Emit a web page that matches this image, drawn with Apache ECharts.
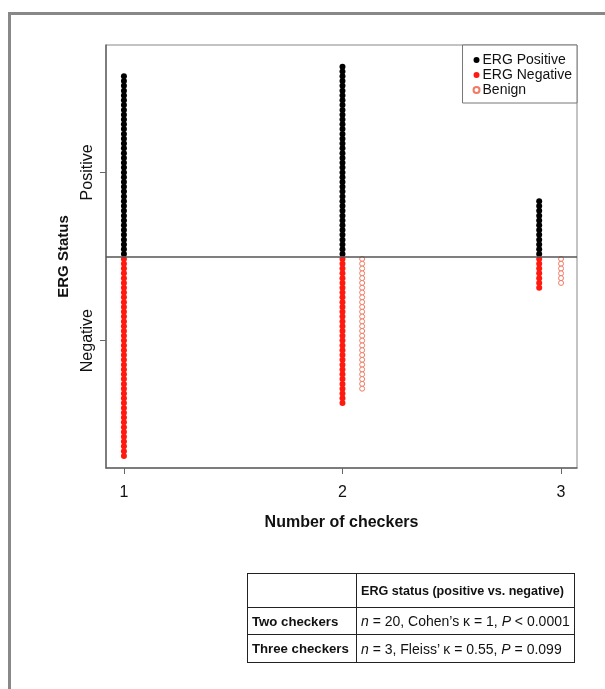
<!DOCTYPE html>
<html>
<head>
<meta charset="utf-8">
<script src="https://cdn.jsdelivr.net/npm/echarts@6/dist/echarts.min.js"></script>
<style>
  html, body { margin: 0; padding: 0; background: #fff; }
  body { width: 605px; height: 689px; position: relative; overflow: hidden; font-family: "Liberation Sans", Arial, sans-serif; }
  #frame { position: absolute; left: 8px; top: 12px; width: 700px; height: 800px; border-left: 3px solid #888; border-top: 3px solid #888; }
  #main { position: absolute; left: 0; top: 0; width: 605px; height: 689px; }
  #stats { position: absolute; left: 247px; top: 573px; width: 328px; border-collapse: collapse; font-size: 14px; color: #111; }
  #stats td { border: 1.5px solid #222; padding: 0 4px; white-space: nowrap; }
  #stats .lab { width: 100px; font-weight: bold; font-size: 13.2px; }
  #stats .hd { font-weight: bold; font-size: 12.6px; }
</style>
</head>
<body>
<div id="frame"></div>
<div id="main"></div>
<table id="stats">
  <tr style="height:34px"><td class="lab"></td><td class="hd">ERG status (positive vs. negative)</td></tr>
  <tr style="height:27px"><td class="lab">Two checkers</td><td><i>n</i> = 20, Cohen’s κ = 1, <i>P</i> &lt; 0.0001</td></tr>
  <tr style="height:28px"><td class="lab">Three checkers</td><td><i>n</i> = 3, Fleiss’ κ = 0.55, <i>P</i> = 0.099</td></tr>
</table>
<script>
// 数据：每组检查者人数下的点数（按堆叠点数读图）
const checkers = [1, 2, 3];
const posX = [1, 2, 2.9];
const negX = [1, 2, 2.9];
const benignX = [1.09, 2.09, 3];
const posCounts = [38, 40, 12];
const negCounts = [42, 31, 7];
const benignCounts = [0, 28, 6];
const statusTicks = [-17.5, 17.5];

// 堆叠点：正向往上，负向往下
function stackDots(xs, counts, dir) {
  let pts = [];
  xs.forEach((x, k) => {
    for (let i = 0; i < counts[k]; i++) {
      pts.push([x, dir * (i + 0.5)]);
    }
  });
  return pts;
}

const chart = echarts.init(document.getElementById('main'), null, { renderer: 'canvas' });
const font = '"Liberation Sans", Arial, sans-serif';

let option = {
  animation: false,
  grid: {
    left: 106, top: 45, right: 28, bottom: 221,
    show: true, borderColor: '#888', borderWidth: 1
  },
  legend: {
    orient: 'vertical',
    right: 28,
    top: 45,
    backgroundColor: '#fff',
    borderColor: '#777',
    borderWidth: 1,
    padding: [8, 5, 6, 10],
    itemGap: 1,
    itemWidth: 6,
    itemHeight: 6,
    textStyle: { fontFamily: font, fontSize: 14, color: '#111', padding: [0, 0, 0, -2] },
    data: [
      { name: 'ERG Positive', icon: 'circle' },
      { name: 'ERG Negative', icon: 'circle' },
      { name: 'Benign', icon: 'circle' }
    ]
  },
  xAxis: {
    type: 'value',
    min: 0.918,
    max: 3.073,
    name: 'Number of checkers',
    nameLocation: 'middle',
    nameGap: 47,
    nameTextStyle: { fontFamily: font, fontSize: 16, fontWeight: 'bold', color: '#111' },
    axisLine: { show: true, onZero: false, lineStyle: { color: '#666', width: 1.5 } },
    axisTick: { show: true, length: 6, customValues: checkers, lineStyle: { color: '#666' } },
    axisLabel: { customValues: checkers, margin: 17, fontFamily: font, fontSize: 16, color: '#111' },
    splitLine: { show: false }
  },
  yAxis: {
    type: 'value',
    min: -44,
    max: 44,
    name: 'ERG Status',
    nameLocation: 'middle',
    nameRotate: 90,
    nameGap: 35,
    nameTextStyle: { fontFamily: font, fontSize: 15, fontWeight: 'bold', color: '#111' },
    axisLine: { show: true, onZero: false, lineStyle: { color: '#666', width: 1.5 } },
    axisTick: { show: true, length: 6, customValues: statusTicks, lineStyle: { color: '#666' } },
    axisLabel: {
      customValues: statusTicks,
      rotate: 90,
      margin: 10,
      fontFamily: font,
      fontSize: 16,
      color: '#111',
      formatter: v => v > 0 ? 'Positive' : 'Negative'
    },
    splitLine: { show: false }
  },
  series: [
    {
      name: 'ERG Positive',
      type: 'scatter',
      symbol: 'circle',
      symbolSize: 6,
      itemStyle: { color: '#000', opacity: 1 },
      data: stackDots(posX, posCounts, 1),
      markLine: {
        silent: true,
        symbol: 'none',
        label: { show: false },
        lineStyle: { color: '#555', width: 1.5, type: 'solid' },
        data: [{ yAxis: 0 }]
      }
    },
    {
      name: 'ERG Negative',
      type: 'scatter',
      symbol: 'circle',
      symbolSize: 6,
      itemStyle: { color: '#ff1a10', opacity: 1 },
      data: stackDots(negX, negCounts, -1)
    },
    {
      name: 'Benign',
      type: 'scatter',
      symbol: 'circle',
      symbolSize: 5,
      itemStyle: { color: '#fff', borderColor: '#f07a62', borderWidth: 1, opacity: 1 },
      data: stackDots(benignX, benignCounts, -1)
    }
  ]
};
chart.setOption(option);
</script>
</body>
</html>
